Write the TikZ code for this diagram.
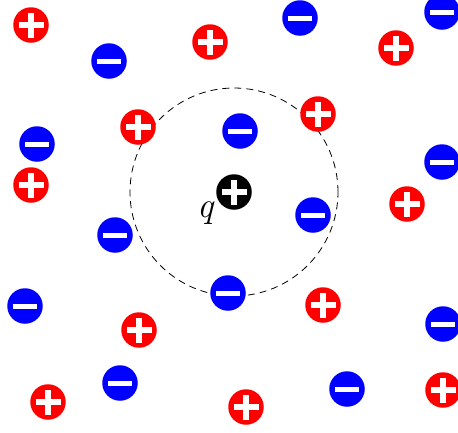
\documentclass[tikz,border=0pt]{standalone}
\usetikzlibrary{calc}
\tikzset{
  chargebase/.style={circle, minimum size=35.5pt, inner sep=0pt},
  poscharge/.style={chargebase, fill=#1, path picture={
      \fill[white] ($(path picture bounding box.center)+(-12.5pt,-3pt)$) rectangle ($(path picture bounding box.center)+(12.5pt,3pt)$);
      \fill[white] ($(path picture bounding box.center)+(-3pt,-12.5pt)$) rectangle ($(path picture bounding box.center)+(3pt,12.5pt)$);
  }},
  poscharge/.default=red,
  negcharge/.style={chargebase, fill=blue, path picture={
      \fill[white] ($(path picture bounding box.center)+(-12pt,-2.5pt)$) rectangle ($(path picture bounding box.center)+(12pt,2.5pt)$);
  }},
  gauss/.style={draw=black, line width=0.8pt, dash pattern=on 7pt off 5pt},
}
\begin{document}
\begin{tikzpicture}[x=1pt,y=-1pt]
\useasboundingbox (0,0) rectangle (458,432);
\node[circle, minimum size=208pt, inner sep=0pt, gauss] (surf) at (234,192) {};
% positive charges
\node[poscharge] (p1) at (31,25) {};
\node[poscharge] (p2) at (210,42) {};
\node[poscharge] (p3) at (396,48) {};
\node[poscharge] (p4) at (138,127) {};
\node[poscharge] (p5) at (318,114) {};
\node[poscharge] (p6) at (31,185) {};
\node[poscharge] (p7) at (407,204) {};
\node[poscharge] (p8) at (323,305) {};
\node[poscharge] (p9) at (139,330) {};
\node[poscharge] (p10) at (48,402) {};
\node[poscharge] (p11) at (246,407) {};
\node[poscharge] (p12) at (443,390) {};
% negative charges
\node[negcharge] (n1) at (109,61) {};
\node[negcharge] (n2) at (300,18) {};
\node[negcharge] (n3) at (442,12) {};
\node[negcharge] (n4) at (37,144) {};
\node[negcharge] (n5) at (240,131) {};
\node[negcharge] (n6) at (442,162) {};
\node[negcharge] (n7) at (313,215) {};
\node[negcharge] (n8) at (115,235) {};
\node[negcharge] (n9) at (228,293) {};
\node[negcharge] (n10) at (25,306) {};
\node[negcharge] (n11) at (443,324) {};
\node[negcharge] (n12) at (120,383) {};
\node[negcharge] (n13) at (347,389) {};
% test charge
\node[poscharge=black] (q) at (234,192) {};
\node[font=\fontsize{36}{40}\selectfont\itshape, inner sep=0pt] (ql) at (205.5,213) {q};
\end{tikzpicture}
\end{document}
